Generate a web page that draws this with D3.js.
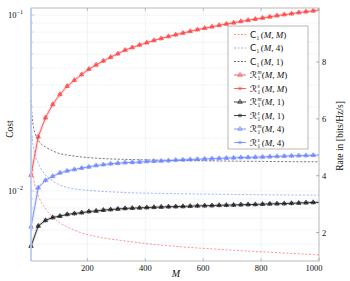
<!DOCTYPE html>
<html>
<head>
<meta charset="utf-8">
<script src="https://cdn.jsdelivr.net/npm/d3@7"></script>
<style>
  body { margin: 0; background: #fff; }
  text { font-family: "Liberation Serif", "DejaVu Serif", serif; fill: #111; }
</style>
</head>
<body>
<svg width="350" height="281"></svg>
<script>
// M values where the rate curves are sampled (markers), 1000 closes the line
var rateM = [5, 30, 55, 80, 105, 130, 155, 180, 205, 230, 255, 280, 305, 330, 355, 380, 405, 430, 455, 480,
  505, 530, 555, 580, 605, 630, 655, 680, 705, 730, 755, 780, 805, 830, 855, 880, 905, 930, 955, 980, 1000];

// rates (right axis), R^m and R^s coincide in the figure
var rateMM = [4.02, 5.37, 6.04, 6.51, 6.86, 7.15, 7.36, 7.56, 7.75, 7.90, 8.04, 8.17, 8.29, 8.42, 8.51, 8.60, 8.68, 8.76, 8.83, 8.90,
  8.96, 9.02, 9.08, 9.14, 9.19, 9.24, 9.29, 9.34, 9.38, 9.43, 9.47, 9.51, 9.55, 9.59, 9.63, 9.67, 9.70, 9.74, 9.77, 9.80, 9.83];
var rateM4 = [2.20, 3.58, 3.84, 3.98, 4.10, 4.17, 4.22, 4.27, 4.31, 4.36, 4.39, 4.42, 4.44, 4.46, 4.47, 4.48, 4.50, 4.51, 4.52, 4.53,
  4.55, 4.56, 4.57, 4.58, 4.59, 4.60, 4.61, 4.62, 4.63, 4.64, 4.645, 4.65, 4.66, 4.67, 4.68, 4.69, 4.70, 4.705, 4.71, 4.72, 4.725];
var rateM1 = [1.52, 2.23, 2.43, 2.53, 2.58, 2.64, 2.67, 2.70, 2.74, 2.76, 2.79, 2.81, 2.83, 2.85, 2.86, 2.87, 2.88, 2.89, 2.90, 2.91,
  2.915, 2.92, 2.93, 2.94, 2.945, 2.95, 2.96, 2.965, 2.97, 2.98, 2.985, 2.99, 3.00, 3.01, 3.015, 3.02, 3.03, 3.04, 3.05, 3.06, 3.065];

// costs (left log axis)
var costM = [5, 10, 15, 20, 30, 40, 55, 80, 105, 130, 180, 230, 330, 430, 530, 655, 780, 905, 1000];
var costMM = [0.0171, 0.01315, 0.01155, 0.01054, 0.00938, 0.00866, 0.00791, 0.00712, 0.00658, 0.00625,
  0.00577, 0.00551, 0.0052, 0.00497, 0.00481, 0.00466, 0.00453, 0.00442, 0.00433];
var costM4 = [0.0253, 0.0195, 0.0171, 0.0158, 0.01442, 0.01333, 0.01233, 0.0114, 0.01082, 0.01047,
  0.01016, 0.0100, 0.0098, 0.0097, 0.00964, 0.00958, 0.00952, 0.00948, 0.00946];
var costM1 = [0.0329, 0.0253, 0.0225, 0.0211, 0.0195, 0.0185, 0.0178, 0.0169, 0.0163, 0.0160,
  0.0156, 0.01536, 0.01512, 0.0150, 0.0149, 0.0148, 0.01474, 0.01467, 0.01465];

var xTicks = [200, 400, 600, 800, 1000];
var rateTicks = [2, 4, 6, 8];

var red = "#ff3b3b", blue = "#6680ff", black = "#111";

var svg = d3.select("svg");
var pLeft = 31, pRight = 319, pTop = 8, pBottom = 261;

var x = d3.scaleLinear().domain([5, 1000]).range([pLeft, pRight]);
var yCost = d3.scaleLog().domain([0.004, 0.1096]).range([pBottom, pTop]);
var yRate = d3.scaleLinear().domain([1, 9.9]).range([pBottom, pTop]);

var minor = [];
[0.001, 0.01].forEach(function(b) {
  for (var k = 2; k <= 9; k++) minor.push(b * k);
});
minor = minor.filter(function(v) { return v > 0.004 && v < 0.1096; });

// grid
var grid = svg.append("g").attr("stroke", "#e8eef6").attr("stroke-width", 0.6);
grid.selectAll(".h").data(minor.concat([0.01, 0.1])).enter().append("line")
  .attr("x1", pLeft).attr("x2", pRight)
  .attr("y1", function(d) { return yCost(d); }).attr("y2", function(d) { return yCost(d); });
grid.selectAll(".v").data(xTicks.slice(0, 4)).enter().append("line")
  .attr("y1", pTop).attr("y2", pBottom)
  .attr("x1", function(d) { return x(d); }).attr("x2", function(d) { return x(d); });

// cost curves (dashed)
var costLine = d3.line()
  .x(function(d) { return x(d[0]); })
  .y(function(d) { return yCost(d[1]); })
  .curve(d3.curveMonotoneX);

[[costMM, "#ff6b6b"], [costM4, "#8196ff"], [costM1, "#444"]].forEach(function(c) {
  svg.append("path")
    .datum(d3.zip(costM, c[0]))
    .attr("fill", "none")
    .attr("stroke", c[1])
    .attr("stroke-width", 0.7)
    .attr("stroke-dasharray", "2.2,1.6")
    .attr("d", costLine);
});

// rate curves
var rateLine = d3.line()
  .x(function(d) { return x(d[0]); })
  .y(function(d) { return yRate(d[1]); });

var tri = d3.symbol().type(d3.symbolTriangle).size(9);
var star = d3.symbol().type(d3.symbolAsterisk).size(11);

function drawRate(vals, col) {
  var pts = d3.zip(rateM, vals);
  svg.append("path").datum(pts)
    .attr("fill", "none").attr("stroke", col).attr("stroke-opacity", 0.15)
    .attr("stroke-width", 3).attr("d", rateLine);
  svg.append("path").datum(pts)
    .attr("fill", "none").attr("stroke", col).attr("stroke-width", 0.8).attr("d", rateLine);
  var mk = svg.append("g").selectAll("g")
    .data(pts.filter(function(d) { return d[0] < 1000; }))
    .enter().append("g")
      .attr("transform", function(d) { return "translate(" + x(d[0]) + "," + yRate(d[1]) + ")"; });
  mk.append("path").attr("d", tri).attr("fill", col).attr("fill-opacity", 0.2)
    .attr("stroke", col).attr("stroke-width", 0.6);
  mk.append("path").attr("d", star).attr("fill", "none").attr("stroke", col).attr("stroke-width", 0.6);
}
drawRate(rateMM, red);
drawRate(rateM4, blue);
drawRate(rateM1, black);

// frame
svg.append("rect").attr("x", pLeft).attr("y", pTop).attr("width", pRight - pLeft).attr("height", pBottom - pTop)
  .attr("fill", "none").attr("stroke", "#a8a8a8").attr("stroke-width", 0.8);
svg.append("line").attr("x1", pLeft).attr("x2", pLeft).attr("y1", pTop).attr("y2", pBottom)
  .attr("stroke", "#b7cdfb").attr("stroke-width", 1.6);

// left ticks
var lt = svg.append("g").attr("stroke", "#9fb9f2").attr("stroke-width", 0.7);
lt.selectAll(".mi").data(minor).enter().append("line")
  .attr("x1", pLeft).attr("x2", pLeft + 2)
  .attr("y1", function(d) { return yCost(d); }).attr("y2", function(d) { return yCost(d); });
lt.selectAll(".ma").data([0.01, 0.1]).enter().append("line")
  .attr("x1", pLeft).attr("x2", pLeft + 3.5)
  .attr("y1", function(d) { return yCost(d); }).attr("y2", function(d) { return yCost(d); });

[[0.1, "\u22121"], [0.01, "\u22122"]].forEach(function(t) {
  var tx = svg.append("text").attr("x", 8).attr("y", yCost(t[0]) + 3).attr("font-size", 8.5);
  tx.append("tspan").text("10");
  tx.append("tspan").attr("dy", -4).attr("font-size", 6).text(t[1]);
});

// bottom ticks
var bt = svg.append("g").attr("stroke", "#999").attr("stroke-width", 0.6);
bt.selectAll(".b").data(xTicks).enter().append("line")
  .attr("x1", function(d) { return x(d); }).attr("x2", function(d) { return x(d); })
  .attr("y1", pBottom).attr("y2", pBottom - 3);
bt.selectAll(".t").data(xTicks).enter().append("line")
  .attr("x1", function(d) { return x(d); }).attr("x2", function(d) { return x(d); })
  .attr("y1", pTop).attr("y2", pTop + 3);
svg.selectAll(".xl").data(xTicks).enter().append("text")
  .attr("x", function(d) { return d === 1000 ? x(d) - 5 : x(d); })
  .attr("y", pBottom + 10).attr("text-anchor", "middle").attr("font-size", 8.5)
  .text(function(d) { return d; });

// right ticks
svg.selectAll(".rt").data(rateTicks).enter().append("line")
  .attr("x1", pRight - 3).attr("x2", pRight)
  .attr("y1", function(d) { return yRate(d); }).attr("y2", function(d) { return yRate(d); })
  .attr("stroke", "#777").attr("stroke-width", 0.6);
svg.selectAll(".rl").data(rateTicks).enter().append("text")
  .attr("x", pRight + 3).attr("y", function(d) { return yRate(d) + 3; })
  .attr("font-size", 8.5).text(function(d) { return d; });

// axis labels
svg.append("text").attr("x", 176).attr("y", 277).attr("text-anchor", "middle")
  .attr("font-size", 10).attr("font-style", "italic").text("M");
svg.append("text").attr("transform", "translate(13,129) rotate(-90)").attr("text-anchor", "middle")
  .attr("font-size", 9.5).text("Cost");
svg.append("text").attr("transform", "translate(343,136) rotate(-90)").attr("text-anchor", "middle")
  .attr("font-size", 9.5).text("Rate in [bits/Hz/s]");

// legend
var lg = svg.append("g");
lg.append("rect").attr("x", 228).attr("y", 26).attr("width", 80).attr("height", 123)
  .attr("fill", "#fff").attr("stroke", "#999").attr("stroke-width", 0.7);

var entries = [
  ["C", "", "M", "#ff6b6b", "dash"], ["C", "", "4", "#8196ff", "dash"], ["C", "", "1", "#444", "dash"],
  ["R", "m", "M", red, "tri"], ["R", "s", "M", red, "star"],
  ["R", "m", "1", black, "tri"], ["R", "s", "1", black, "star"],
  ["R", "m", "4", blue, "tri"], ["R", "s", "4", blue, "star"]
];
entries.forEach(function(e, i) {
  var cy = 34.5 + i * 13.5;
  var g = lg.append("g");
  g.append("line").attr("x1", 234).attr("x2", 246).attr("y1", cy).attr("y2", cy)
    .attr("stroke", e[3]).attr("stroke-width", 0.8)
    .attr("stroke-dasharray", e[4] === "dash" ? "2,1.5" : null);
  if (e[4] === "tri") {
    g.append("path").attr("d", tri).attr("transform", "translate(240," + cy + ")")
      .attr("fill", e[3]).attr("fill-opacity", 0.2).attr("stroke", e[3]).attr("stroke-width", 0.6);
  } else if (e[4] === "star") {
    g.append("path").attr("d", star).attr("transform", "translate(240," + cy + ")")
      .attr("fill", "none").attr("stroke", e[3]).attr("stroke-width", 0.6);
  }
  var tx = 250, ty = cy + 3.2;
  var head;
  if (e[0] === "C") {
    head = g.append("text").attr("x", tx).attr("y", ty).attr("font-size", 9)
      .style("font-family", "'DejaVu Sans', sans-serif").text("C");
  } else {
    head = g.append("text").attr("x", tx).attr("y", ty).attr("font-size", 9)
      .style("font-family", "'DejaVu Sans', sans-serif").text("\u211B");
  }
  var w = head.node().getComputedTextLength();
  g.append("text").attr("x", tx + w + 0.3).attr("y", ty + 2).attr("font-size", 5.5).text("1");
  if (e[1]) {
    g.append("text").attr("x", tx + w + 0.3).attr("y", ty - 3.8).attr("font-size", 5.5)
      .attr("font-style", "italic").text(e[1]);
  }
  var rest = g.append("text").attr("x", tx + w + 4.5).attr("y", ty).attr("font-size", 9);
  rest.append("tspan").text("(");
  rest.append("tspan").attr("font-style", "italic").text("M");
  rest.append("tspan").text(", ");
  rest.append("tspan").attr("font-style", e[2] === "M" ? "italic" : null).text(e[2]);
  rest.append("tspan").text(")");
});
</script>
</body>
</html>
